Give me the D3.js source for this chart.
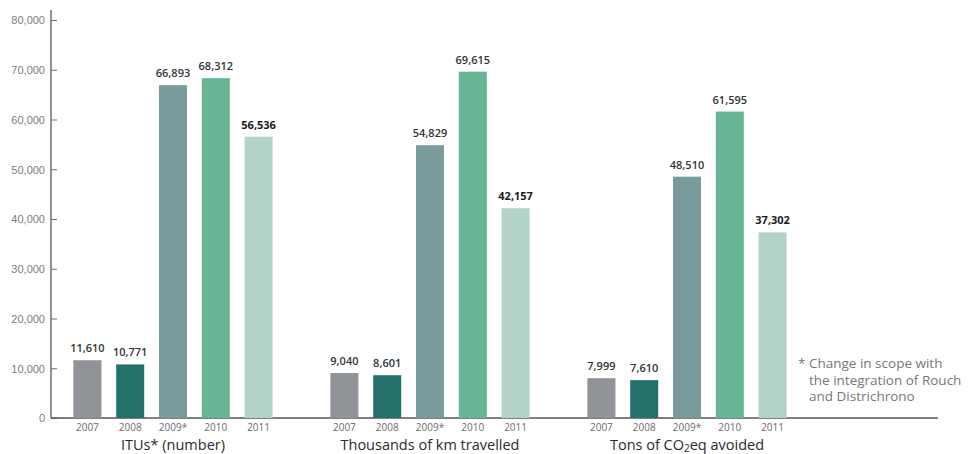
<!DOCTYPE html>
<html>
<head>
<meta charset="utf-8">
<script src="https://cdn.jsdelivr.net/npm/d3@7"></script>
<style>
  html, body { margin: 0; padding: 0; background: #fff; }
  svg { display: block; font-family: "Open Sans", sans-serif; }
</style>
</head>
<body>
<svg id="chart" width="969" height="454"></svg>
<script>
const categories = ["ITUs* (number)", "Thousands of km travelled", "Tons of CO2eq avoided"];
const years = ["2007", "2008", "2009*", "2010", "2011"];
const itus = [11610, 10771, 66893, 68312, 56536];
const kmTravelled = [9040, 8601, 54829, 69615, 42157];
const co2Avoided = [7999, 7610, 48510, 61595, 37302];
const yTicks = [0, 10000, 20000, 30000, 40000, 50000, 60000, 70000, 80000];
const yearColors = ["#909498", "#24716c", "#7a9b9b", "#68b596", "#b3d3c6"];
const footnote = ["* Change in scope with", "the integration of Rouch", "and Districhrono"];

const seriesByCategory = [itus, kmTravelled, co2Avoided];

const svg = d3.select("#chart");
const axisX = 51, baseY = 418;

const y = d3.scaleLinear().domain([0, 80000]).range([baseY, 20]);
const x0 = d3.scaleBand().domain(categories).range([66, 66 + 3 * 257]).paddingInner(0).paddingOuter(0);
const x1 = d3.scaleBand().domain(years).range([0, 214]).paddingInner(0.345).paddingOuter(0.1725);
const color = d3.scaleOrdinal().domain(years).range(yearColors);

// Y axis
const yAxis = d3.axisRight(y).tickValues(yTicks).tickSize(6).tickFormat(() => "");
const gy = svg.append("g").attr("transform", `translate(${axisX},0)`).call(yAxis);
gy.select(".domain").remove();
gy.selectAll(".tick line").attr("stroke", "#6d6e70").attr("stroke-width", 1);
gy.append("line").attr("x1", 0).attr("x2", 0).attr("y1", 10).attr("y2", baseY)
  .attr("stroke", "#6d6e70").attr("stroke-width", 1.5);
gy.selectAll(".tick").append("text")
  .attr("x", -6).attr("dy", "0.35em")
  .attr("text-anchor", "end")
  .attr("fill", "#7d7d7d")
  .style("font-size", "11px")
  .text(d => d3.format(",")(d));

// Baseline
svg.append("line").attr("x1", axisX).attr("x2", 938).attr("y1", baseY).attr("y2", baseY)
  .attr("stroke", "#555").attr("stroke-width", 1.5);

// Bars
const groups = svg.selectAll("g.group")
  .data(categories.map((c, i) => ({ cat: c, values: seriesByCategory[i] })))
  .join("g").attr("class", "group")
  .attr("transform", d => `translate(${x0(d.cat)},0)`);

groups.selectAll("rect")
  .data(d => d.values.map((v, j) => ({ year: years[j], v })))
  .join("rect")
  .attr("x", d => x1(d.year))
  .attr("width", x1.bandwidth())
  .attr("y", d => y(d.v))
  .attr("height", d => baseY - y(d.v))
  .attr("fill", d => color(d.year));

groups.selectAll("text.val")
  .data(d => d.values.map((v, j) => ({ year: years[j], v, j })))
  .join("text").attr("class", "val")
  .attr("x", d => x1(d.year) + x1.bandwidth() / 2)
  .attr("y", d => y(d.v) - 8)
  .attr("text-anchor", "middle")
  .attr("fill", d => d.j === 4 ? "#1a1a1a" : "#333")
  .style("font-size", "11px")
  .style("font-weight", d => d.j === 4 ? 700 : 600)
  .text(d => d3.format(",")(d.v));

groups.selectAll("text.year")
  .data(years)
  .join("text").attr("class", "year")
  .attr("x", d => x1(d) + x1.bandwidth() / 2)
  .attr("y", 431)
  .attr("text-anchor", "middle")
  .attr("fill", "#6a6a6a")
  .style("font-size", "10px")
  .text(d => d);

// Category titles
groups.each(function(d) {
  const t = d3.select(this).append("text")
    .attr("x", (x1(years[0]) + x1(years[4]) + x1.bandwidth()) / 2)
    .attr("y", 450)
    .attr("text-anchor", "middle")
    .attr("fill", "#2b2b2b")
    .style("font-size", "14.5px")
    .style("font-weight", 500);
  if (d.cat.indexOf("CO2") >= 0) {
    t.append("tspan").text("Tons of CO");
    t.append("tspan").attr("dy", 1.5).style("font-size", "10px").text("2");
    t.append("tspan").attr("dy", -1.5).text("eq avoided");
  } else {
    t.text(d.cat);
  }
});

// Footnote
const fn = svg.append("g").attr("fill", "#777").style("font-size", "13.5px");
fn.selectAll("text").data(footnote).join("text")
  .attr("x", (d, i) => i === 0 ? 798 : 809)
  .attr("y", (d, i) => 368 + i * 16.5)
  .text(d => d);
</script>
</body>
</html>
